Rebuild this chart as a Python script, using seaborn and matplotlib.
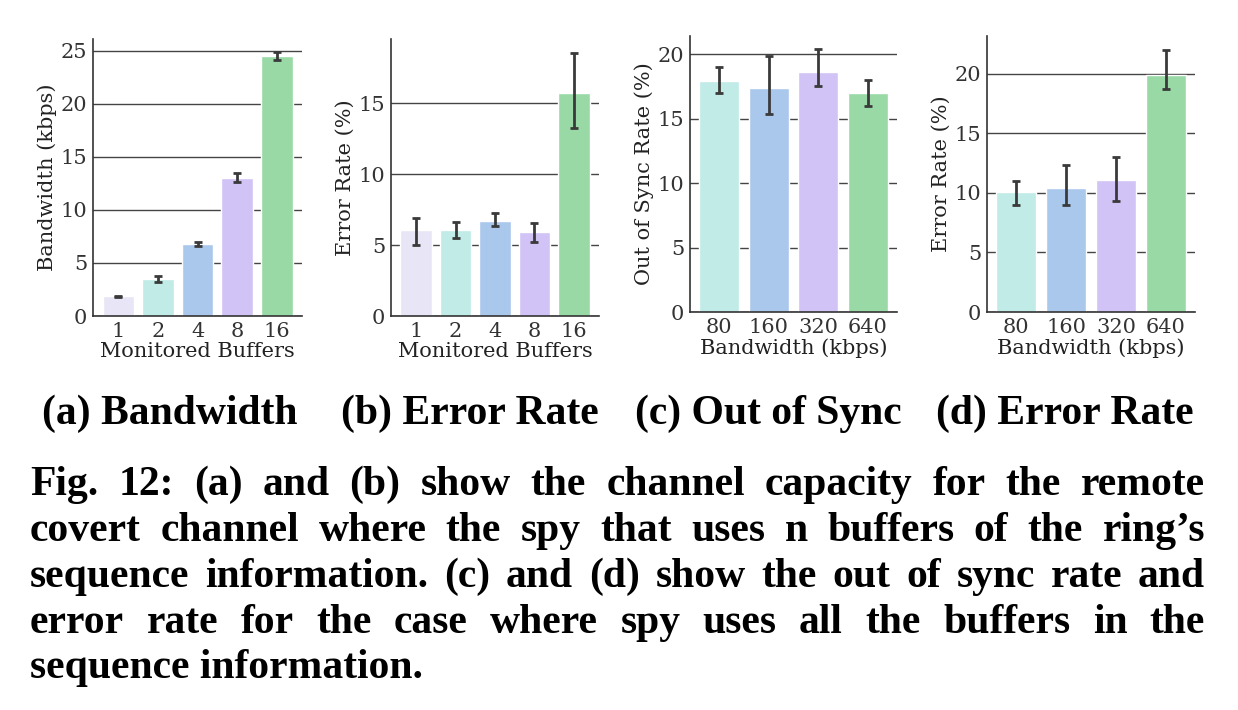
import matplotlib
matplotlib.use("Agg")
import matplotlib.pyplot as plt
import seaborn as sns

sns.set_style("white")
plt.rcParams['font.family'] = ['DejaVu Serif']

# data
buffers = ['1', '2', '4', '8', '16']
bw_kbps = ['80', '160', '320', '640']

bandwidth = [1.86, 3.52, 6.79, 13.02, 24.47]
bandwidth_lo = [1.80, 3.21, 6.60, 12.60, 24.12]
bandwidth_hi = [1.92, 3.77, 7.00, 13.50, 24.84]

err_buf = [6.05, 6.09, 6.73, 5.90, 15.72]
err_buf_lo = [4.99, 5.48, 6.35, 5.20, 13.27]
err_buf_hi = [6.90, 6.61, 7.29, 6.54, 18.59]

out_sync = [17.93, 17.36, 18.63, 16.97]
out_sync_lo = [17.00, 15.39, 17.56, 15.98]
out_sync_hi = [18.99, 19.82, 20.41, 18.00]

err_bw = [10.04, 10.43, 11.05, 19.86]
err_bw_lo = [9.01, 9.01, 9.29, 18.71]
err_bw_hi = [11.02, 12.31, 13.00, 22.01]

colors5 = ['#e8e6f6', '#c0ebe6', '#aac8ec', '#d1c3f6', '#98d9a6']
colors4 = colors5[1:]

subcaptions = ['(a) Bandwidth', '(b) Error Rate', '(c) Out of Sync', '(d) Error Rate']
caption_lines = [
    "Fig. 12: (a) and (b) show the channel capacity for the remote",
    "covert channel where the spy that uses n buffers of the ring\u2019s",
    "sequence information. (c) and (d) show the out of sync rate and",
    "error rate for the case where spy uses all the buffers in the",
    "sequence information.",
]

W, H = 1238, 710
fig = plt.figure(figsize=(W / 100, H / 100), dpi=100)


def box(l, r, t, b):
    return [l / W, 1 - b / H, (r - l) / W, (b - t) / H]


panels = [
    (box(93, 302, 39, 316), buffers, bandwidth, bandwidth_lo, bandwidth_hi, colors5,
     'Monitored Buffers', 'Bandwidth (kbps)', 26.1, [0, 5, 10, 15, 20, 25]),
    (box(391, 599, 39, 316), buffers, err_buf, err_buf_lo, err_buf_hi, colors5,
     'Monitored Buffers', 'Error Rate (%)', 19.55, [0, 5, 10, 15]),
    (box(690, 897, 36, 312), bw_kbps, out_sync, out_sync_lo, out_sync_hi, colors4,
     'Bandwidth (kbps)', 'Out of Sync Rate (%)', 21.4, [0, 5, 10, 15, 20]),
    (box(987, 1195, 36, 312), bw_kbps, err_bw, err_bw_lo, err_bw_hi, colors4,
     'Bandwidth (kbps)', 'Error Rate (%)', 23.15, [0, 5, 10, 15, 20]),
]

for rect, cats, vals, lo, hi, cols, xl, yl, ytop, yt in panels:
    ax = fig.add_axes(rect)
    sns.barplot(x=cats, y=vals, hue=cats, palette=cols, legend=False, errorbar=None,
                saturation=1, edgecolor='white', linewidth=1, width=0.8, ax=ax)
    yerr = [[v - l for v, l in zip(vals, lo)], [h - v for v, h in zip(vals, hi)]]
    ax.errorbar(range(len(cats)), vals, yerr=yerr, fmt='none', ecolor='#3a3a3a',
                elinewidth=2, capsize=3, capthick=2, zorder=5)
    ax.set_ylim(0, ytop)
    ax.set_yticks(yt)
    ax.set_axisbelow(True)
    ax.yaxis.grid(True, color='#444444', linewidth=1)
    ax.tick_params(length=0, labelsize=15, colors='#333333', pad=4)
    ax.set_xlabel(xl, fontsize=15, color='#222222', labelpad=1)
    ax.set_ylabel(yl, fontsize=15, color='#222222', labelpad=3)
    for s in ['top', 'right']:
        ax.spines[s].set_visible(False)
    for s in ['left', 'bottom']:
        ax.spines[s].set_color('#333333')
        ax.spines[s].set_linewidth(1.2)

cap_font = dict(family='Liberation Serif', weight='bold', color='black')

sub_x = [170, 470, 768, 1065]
for cx, txt in zip(sub_x, subcaptions):
    fig.text(cx / W, 1 - 424 / H, txt, ha='center', va='baseline', fontsize=30, **cap_font)

# justified caption block
renderer = fig.canvas.get_renderer()
left, right = 30, 1205
baselines = [495, 541, 587, 633, 678]
size = 30
for i, (line, yb) in enumerate(zip(caption_lines, baselines)):
    words = line.split(' ')
    if i == len(caption_lines) - 1:
        fig.text(left / W, 1 - yb / H, line, ha='left', va='baseline', fontsize=size, **cap_font)
        continue
    objs = [fig.text(0, 1 - yb / H, w, ha='left', va='baseline', fontsize=size, **cap_font)
            for w in words]
    widths = [o.get_window_extent(renderer).width for o in objs]
    gap = (right - left - sum(widths)) / (len(words) - 1)
    x = left
    for o, w in zip(objs, widths):
        o.set_x(x / W)
        x += w + gap

fig.savefig('out.png', dpi=100)
